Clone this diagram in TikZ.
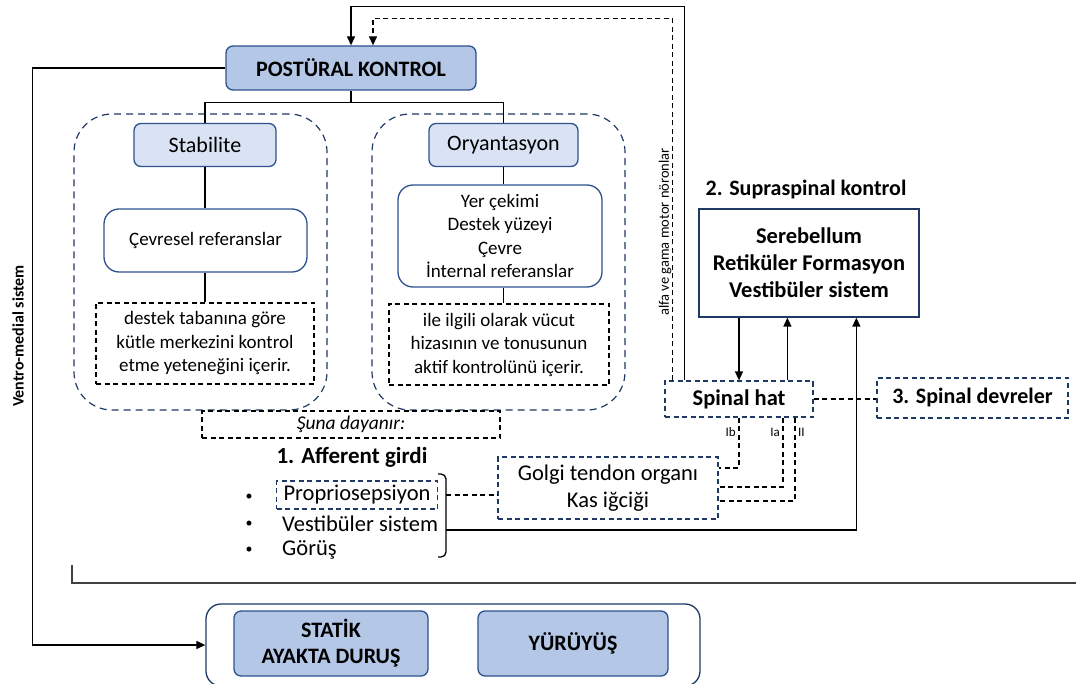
\documentclass[tikz,border=0pt]{standalone}
\usepackage{fontspec}
\setmainfont{Carlito}
\usetikzlibrary{arrows.meta,positioning,calc}
\definecolor{navy}{HTML}{2F528F}
\definecolor{darknavy}{HTML}{203864}
\definecolor{boxblue}{HTML}{B4C7E7}
\definecolor{paleblue}{HTML}{DAE3F3}
\tikzset{
  mainbox/.style={
    draw=navy,
    fill=boxblue,
    rounded corners=7pt,
    line width=1.3pt,
    align=center,
    inner sep=2pt,
    font=\bfseries\fontsize{22}{26}\selectfont
  },
  subbox/.style={draw=navy, fill=paleblue, rounded corners=7pt, line width=1.3pt, align=center, font=\fontsize{22}{26}\selectfont},
  refbox/.style={draw=navy, fill=white, rounded corners=15pt, line width=1.3pt, align=center, font=\fontsize{19}{23.5}\selectfont},
  notebox/.style={draw=black, dash pattern=on 5pt off 3.5pt, line width=1.2pt, align=center, font=\fontsize{19}{23.5}\selectfont},
  navybox/.style={draw=darknavy, dash pattern=on 5pt off 3.5pt, line width=1.2pt, align=center},
  group/.style={draw=darknavy, dash pattern=on 7pt off 5pt, rounded corners=38pt, line width=1.2pt},
  line/.style={draw=black, line width=1.3pt},
  arrow/.style={line, -{Triangle[length=9pt, width=8pt]}},
  dashline/.style={line, dash pattern=on 5pt off 3.5pt},
  dasharrow/.style={dashline, -{Triangle[length=9pt, width=8pt]}},
  bold/.style 2 args={font=\bfseries\fontsize{#1}{#2}\selectfont},
  plain/.style 2 args={font=\fontsize{#1}{#2}\selectfont}
}

\begin{document}
\begin{tikzpicture}[x=1pt, y=-1pt]
  \useasboundingbox (0,0) rectangle (1076,684);
  % postural control tree
  \node[mainbox, minimum width=250pt, minimum height=44pt] (postural) at (351,68) {POSTÜRAL KONTROL};
  \node[group, minimum width=253pt, minimum height=296pt] (stabgrp) at (200.5,262) {};
  \node[group, minimum width=253pt, minimum height=296pt] (oryangrp) at (498.5,262) {};
  \node[subbox, minimum width=142pt, minimum height=43pt] (stab) at (205,145) {Stabilite};
  \node[subbox, minimum width=149pt, minimum height=43pt] (oryan) at (503.5,145) {Oryantasyon};
  \node[refbox, minimum width=203pt, minimum height=63pt] (cevre) at (205.5,240.5) {Çevresel referanslar};
  \node[refbox, minimum width=204pt, minimum height=102pt] (yer) at (500,236) {Yer çekimi\\Destek yüzeyi\\Çevre\\İnternal referanslar};
  \node[notebox, minimum width=218pt, minimum height=81pt] (stabnot) at (205,343.5) {destek tabanına göre\\kütle merkezini kontrol\\etme yeteneğini içerir.};
  \node[notebox, minimum width=220pt, minimum height=81pt] (oryannot) at (499,344.5) {ile ilgili olarak vücut\\hizasının ve tonusunun\\aktif kontrolünü içerir.};
  \node[notebox, minimum width=298pt, minimum height=27pt, font=\itshape\fontsize{19.5}{21}\selectfont] (dayan) at (351,424.5) {Şuna dayanır:};

  \draw[line] (postural.south) -- ++(0,12) -| (stab.north);
  \draw[line] (postural.south) -- ++(0,12) -| (oryan.north);
  \draw[line] (stab) -- (stab |- cevre.north);
  \draw[line] (stab |- cevre.south) -- (stab |- stabnot.north);
  \draw[line] (oryan) -- (oryan |- yer.north);
  \draw[line] (oryan |- yer.south) -- (oryan |- oryannot.north);

  % afferent input
  \node[bold={23}{26}] (afftitle) at (352,457) {1. Afferent girdi};
  \node[navybox, plain={22.5}{26}, minimum width=161pt, minimum height=28pt, inner sep=0pt] (prop) at (357,495) {Propriosepsiyon};
  \node[plain={22.5}{26}, anchor=west, inner sep=0pt] (vest) at (282,524) {Vestibüler sistem};
  \node[plain={22.5}{26}, anchor=west, inner sep=0pt] (goru) at (282,550) {Görüş};
  \node[plain={14}{16}] (b1) at (249,497) {\textbullet};
  \node[plain={14}{16}] (b2) at (249,524) {\textbullet};
  \node[plain={14}{16}] (b3) at (249,550) {\textbullet};
  \draw[line, rounded corners=5pt] (438,474) -- (446,474) -- (446,557) -- (438,557);
  \coordinate (brtop) at (446,495);
  \coordinate (brlow) at (446,530);
  \node[navybox, plain={22.5}{27}, minimum width=220pt, minimum height=62pt] (golgi) at (608,488) {Golgi tendon organı\\Kas iğciği};
  \draw[dashline] (brtop) -- (golgi.west |- brtop);

  % supraspinal and spinal
  \node[bold={22}{25}] (supratitle) at (806,190) {2. Supraspinal kontrol};
  \node[draw=darknavy, line width=1.3pt, align=center, bold={22.5}{27}, minimum width=220pt, minimum height=108pt] (supra) at (809,263) {Serebellum\\Retiküler Formasyon\\Vestibüler sistem};
  \node[navybox, bold={22.5}{25}, minimum width=148pt, minimum height=36pt] (spinal) at (739,399) {Spinal hat};
  \node[navybox, bold={22}{25}, minimum width=191pt, minimum height=40pt] (devre) at (972.5,398) {3. Spinal devreler};
  \draw[dashline] (spinal.east) -- (devre.west |- spinal.east);

  \coordinate (upx) at ($(spinal.north west)+(123,0)$);
  \coordinate (upy) at ($(supra.south west)+(158,0)$);
  \draw[arrow] (spinal.north |- supra.south) -- (spinal.north);
  \draw[arrow] (upx) -- (upx |- supra.south);
  \draw[arrow] (brlow) -| (upy);

  \draw[dashline] (spinal.south) |- ($(golgi.east)+(0,-20)$);
  \draw[dashline] ($(spinal.south)+(44,0)$) |- ($(golgi.east)+(0,-1)$);
  \draw[dashline] ($(spinal.south)+(56,0)$) |- ($(golgi.east)+(0,13)$);
  \node[plain={13}{15}, anchor=east, inner sep=1pt] (ib) at (737,432) {Ib};
  \node[plain={13}{15}, anchor=east, inner sep=1pt] (ia) at (781,432) {Ia};
  \node[plain={13}{15}, anchor=west, inner sep=1pt] (ii) at (797,432) {II};

  % feedback to postural control
  \draw[arrow] ($(spinal.north west)+(20,0)$) -- ++(0,-374) -| (postural.north);
  \draw[dasharrow] ($(spinal.north west)+(8,0)$) -- ++(0,-362) -| ($(postural.north)+(22,0)$);
  \node[rotate=90, plain={14.5}{16}, inner sep=0pt] (alfa) at (665,232) {alfa ve gama motor nöronlar};

  % ventro-medial output
  \node[draw=darknavy, line width=1.3pt, rounded corners=15pt, minimum width=494pt, minimum height=82pt] (ground) at (453,645) {};
  \node[mainbox, bold={22}{26}, minimum width=194pt, minimum height=65pt] (statik) at (331,643.5) {STATİK\\AYAKTA DURUŞ};
  \node[mainbox, bold={22}{26}, minimum width=190pt, minimum height=65pt] (yuruyus) at (573,643.5) {YÜRÜYÜŞ};
  \draw[arrow] (postural.west) -- ++(-193,0) |- (ground.west);
  \node[rotate=90, bold={16}{18}, inner sep=0pt] (ventro) at (18,336) {Ventro-medial sistem};

  \coordinate (basel) at (72,565);
  \coordinate (baser) at (1076,583);
  \draw[line, draw=black!75, line width=2pt] (basel) |- (baser);
\end{tikzpicture}
\end{document}
